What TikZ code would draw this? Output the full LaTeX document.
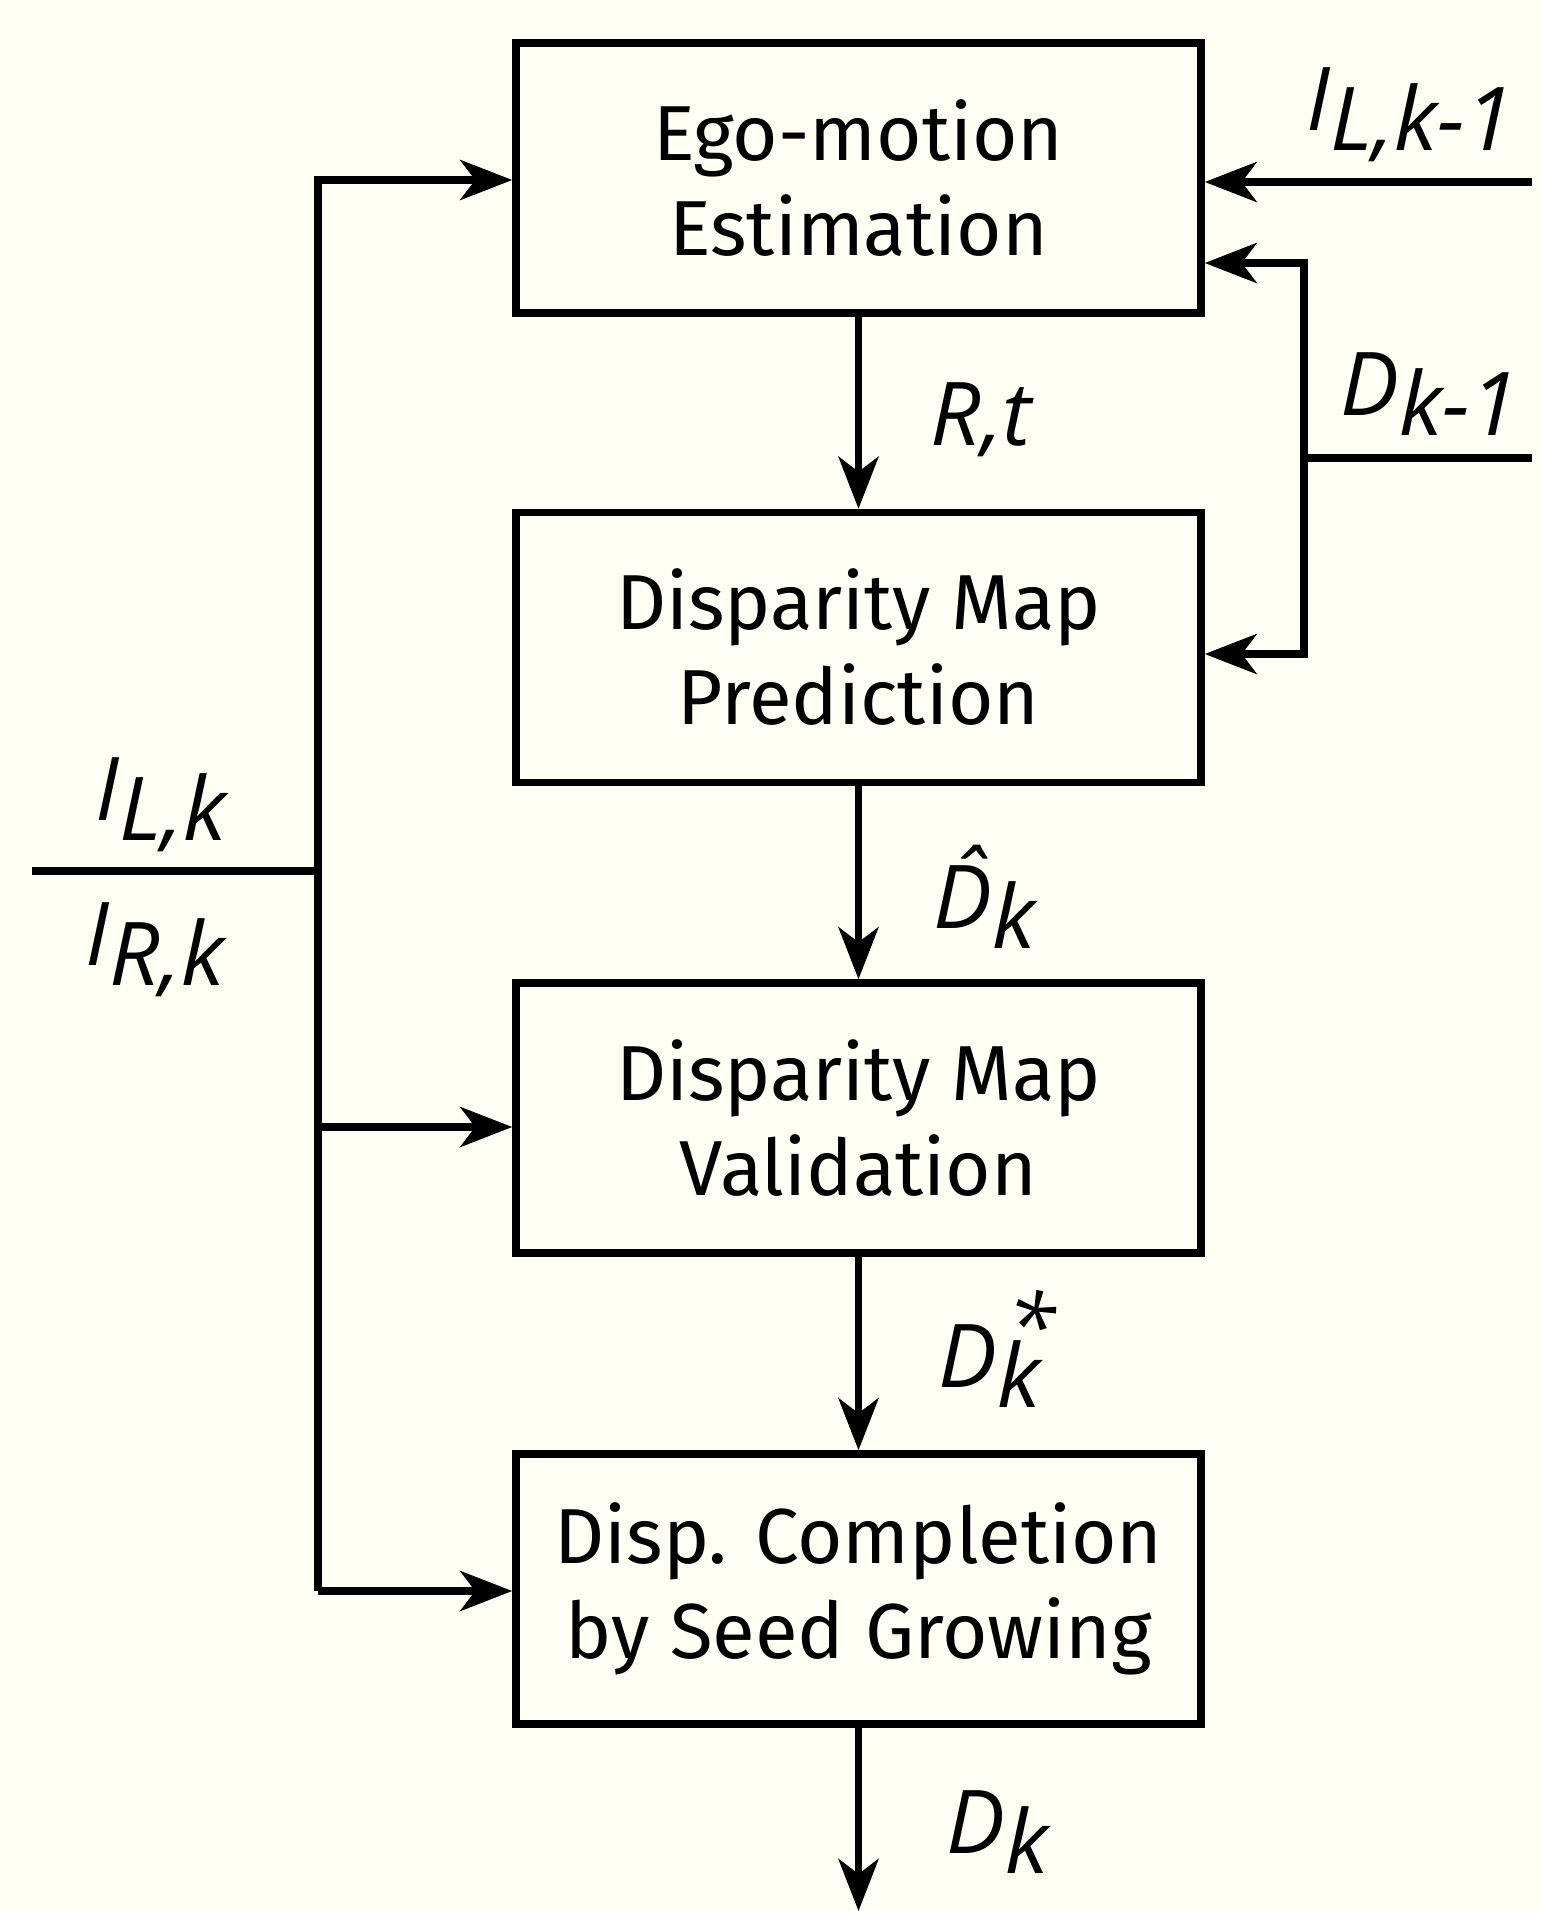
\documentclass[tikz,border=0pt]{standalone}
\usepackage{fontspec}
\setmainfont{Fira Sans}
\newfontfamily\labelfont{Open Sans}
\usetikzlibrary{arrows.meta}
\definecolor{paper}{RGB}{254,254,245}
% lowered subscript set at full size
\newcommand\lowsub[1]{\raisebox{-20pt}{#1}}
\begin{document}
\begin{tikzpicture}[x=1pt,y=-1pt,line width=7.5pt,
  box/.style={draw,line width=7.5pt,minimum width=685pt,minimum height=270pt,
    inner sep=0pt,align=center,font=\fontsize{78}{95}\selectfont},
  flow/.style={-{Stealth[length=52pt,width=40pt,inset=15pt]}},
  lbl/.style={anchor=base west,inner sep=0pt,font=\labelfont\fontsize{88}{88}\selectfont\itshape}]
\fill[paper] (0,0) rectangle (1541,1911);
\useasboundingbox (0,0) rectangle (1541,1911);

% processing stages
\node[box] (ego)  at (858.5,178)  {Ego-motion\\Estimation};
\node[box] (pred) at (858.5,647.5) {Disparity Map\\Prediction};
\node[box] (val)  at (858.5,1118) {Disparity Map\\Validation};
\node[box] (comp) at (858.5,1589) {Disp. Completion\\by Seed Growing};

% stereo input bus on the left
\coordinate (inL) at (32,871);
\coordinate (bus) at (318,871);
\coordinate (b1) at (318,180);
\coordinate (b3) at (318,1127);
\coordinate (b4) at (318,1591);
\draw (inL) -- (bus);
\draw[flow] (b4) -- (b1) -- (ego.west |- b1);
\draw[flow] (b3) -- (val.west |- b3);
\draw[flow] (b4) -- (comp.west |- b4);

% previous-frame inputs on the right
\coordinate (r1) at (1532,182);
\coordinate (dIn) at (1532,458);
\coordinate (dj) at (1304,458);
\coordinate (dUp) at (1304,263);
\coordinate (dDn) at (1304,654);
\draw[flow] (r1) -- (ego.east |- r1);
\draw (dIn) -- (dj);
\draw[flow] (dj) -- (dUp) -- (ego.east |- dUp);
\draw[flow] (dj) -- (dDn) -- (pred.east |- dDn);

% main chain
\coordinate (out) at (858.5,1911);
\draw[flow] (ego) -- (pred);
\draw[flow] (pred) -- (val);
\draw[flow] (val) -- (comp);
\draw[flow] (comp) -- (out);

% signal labels
\node[lbl] (lRt)   at (927,445)  {R,t};
\node[lbl] (lDhat) at (930,928)  {\^{D}\lowsub{k}};
\node[lbl] (lDst)  at (935,1387) {D\lowsub{\makebox[0pt][l]{\hspace{10pt}\raisebox{50pt}{*}}k}};
\node[lbl] (lDk)   at (943,1853) {D\lowsub{k}};
\node[lbl] (lIL1)  at (1303,130) {I\lowsub{L,k-1}};
\node[lbl] (lDk1)  at (1337,415) {D\lowsub{k-1}};
\node[lbl] (lILk)  at (92,820)   {I\lowsub{L,k}};
\node[lbl] (lIRk)  at (82,965)   {I\lowsub{R,k}};
\end{tikzpicture}
\end{document}
